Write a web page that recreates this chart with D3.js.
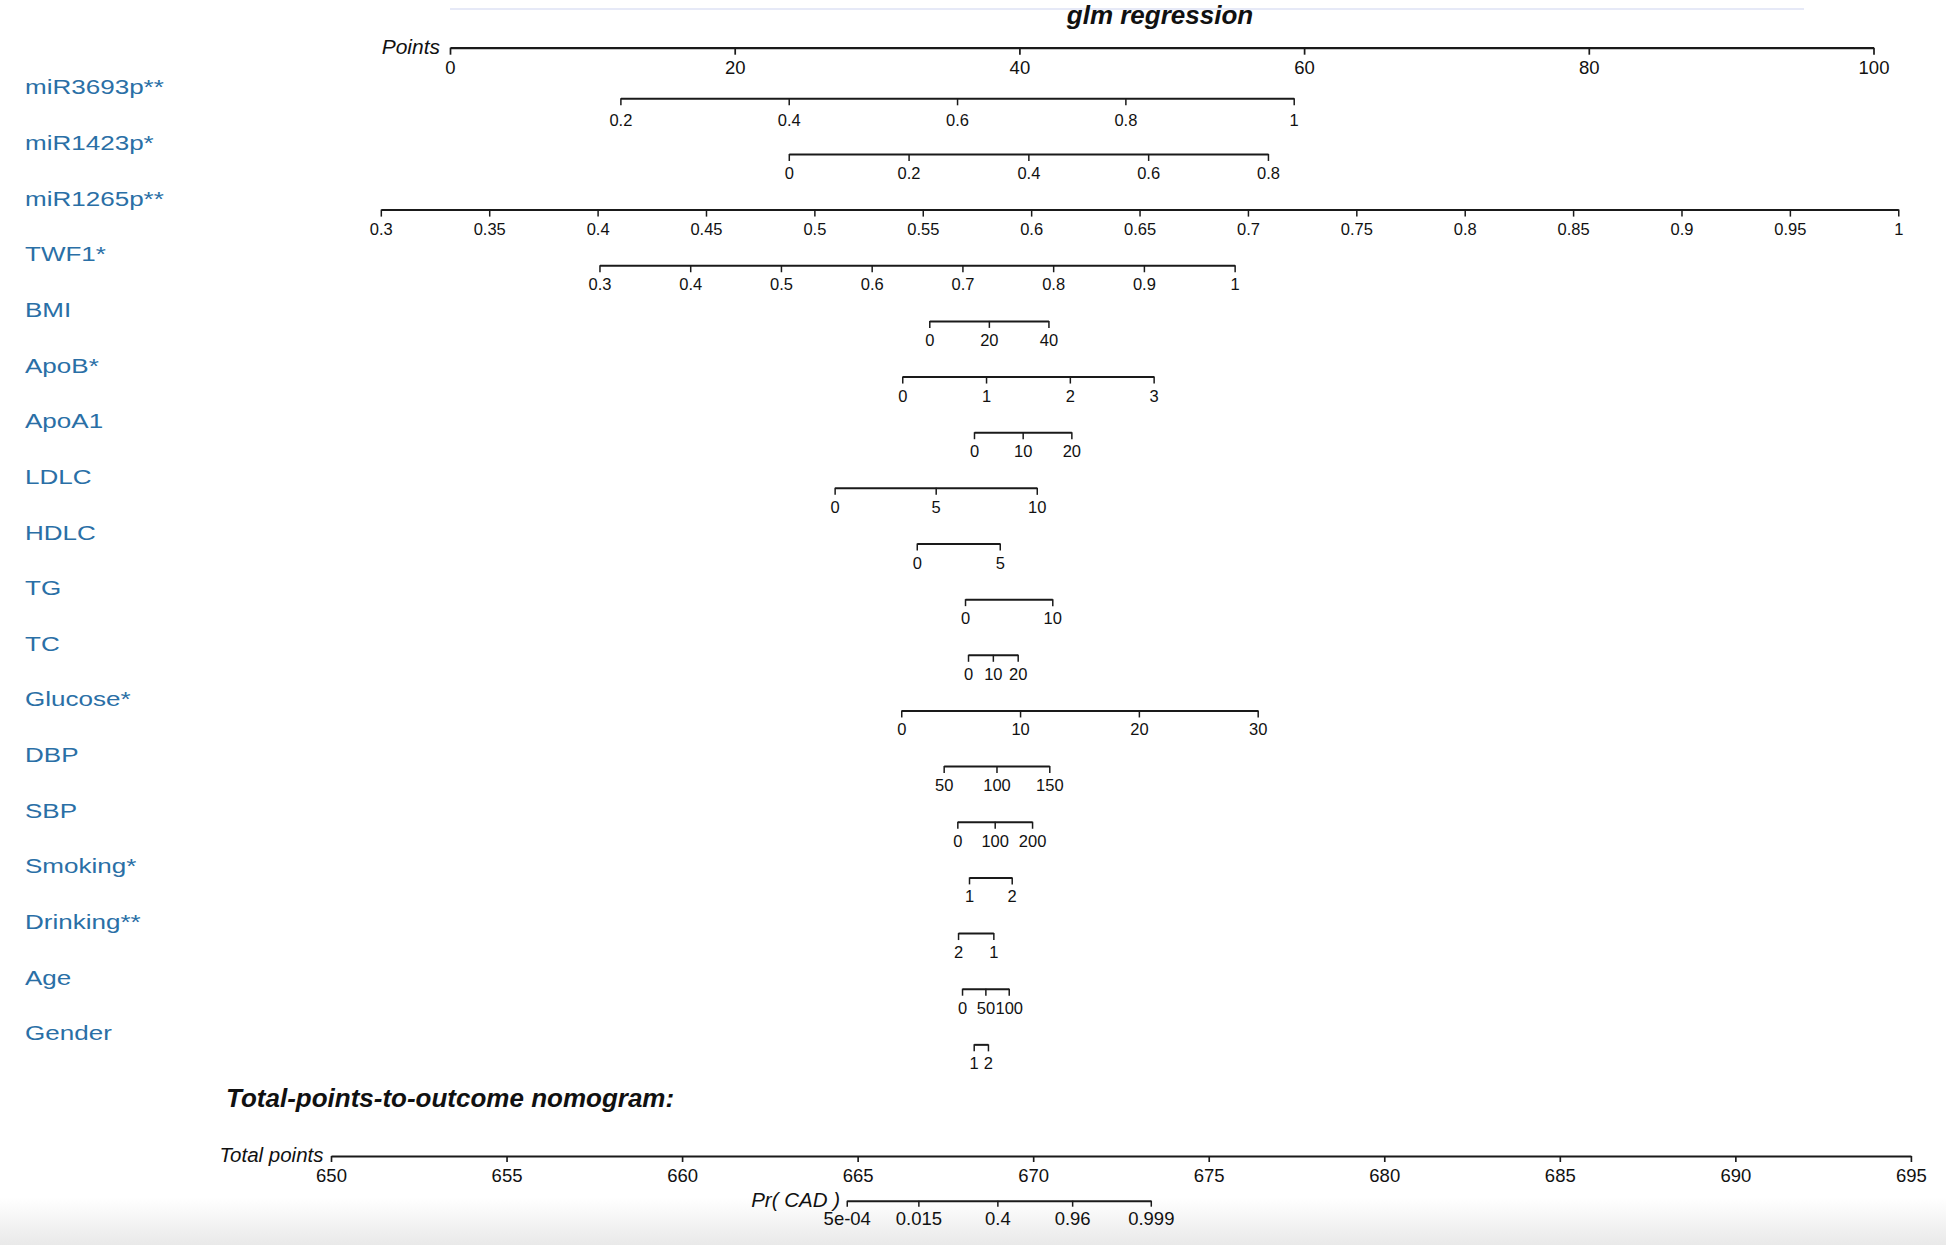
<!DOCTYPE html>
<html>
<head>
<meta charset="utf-8">
<script src="https://cdn.jsdelivr.net/npm/d3@7"></script>
<style>
  html, body { margin: 0; padding: 0; background: #ffffff; }
  svg { display: block; }
  text { font-family: "Liberation Sans", Arial, Helvetica, sans-serif; }
</style>
</head>
<body>
<svg id="chart" width="1946" height="1245"></svg>
<script>
// ---------- data ----------
const chartTitle = "glm regression";
const varNames = ["miR3693p**", "miR1423p*", "miR1265p**", "TWF1*", "BMI", "ApoB*", "ApoA1",
  "LDLC", "HDLC", "TG", "TC", "Glucose*", "DBP", "SBP", "Smoking*", "Drinking**", "Age", "Gender"];
const varTicks = [
  [0.2, 0.4, 0.6, 0.8, 1],
  [0, 0.2, 0.4, 0.6, 0.8],
  [0.3, 0.35, 0.4, 0.45, 0.5, 0.55, 0.6, 0.65, 0.7, 0.75, 0.8, 0.85, 0.9, 0.95, 1],
  [0.3, 0.4, 0.5, 0.6, 0.7, 0.8, 0.9, 1],
  [0, 20, 40],
  [0, 1, 2, 3],
  [0, 10, 20],
  [0, 5, 10],
  [0, 5],
  [0, 10],
  [0, 10, 20],
  [0, 10, 20, 30],
  [50, 100, 150],
  [0, 100, 200],
  [1, 2],
  [2, 1],
  [0, 50, 100],
  [1, 2]
];
// points (0-100 scale) at the first and last tick of each variable
const varPointRange = [
  [11.97, 59.27], [23.80, 57.46], [-4.86, 101.74], [10.50, 55.12], [33.67, 42.04],
  [31.77, 49.43], [36.81, 43.65], [27.02, 41.22], [32.79, 38.62], [36.18, 42.31],
  [36.39, 39.88], [31.70, 56.74], [34.68, 42.10], [35.64, 40.89], [36.46, 39.46],
  [35.69, 38.17], [35.97, 39.25], [36.79, 37.79]
];
const pointTicks = [0, 20, 40, 60, 80, 100];
const totalTicks = [650, 655, 660, 665, 670, 675, 680, 685, 690, 695];
const prLabels = ["5e-04", "0.015", "0.4", "0.96", "0.999"];
const prTotalPoints = [664.69, 666.73, 668.98, 671.11, 673.35];

// ---------- layout ----------
const svg = d3.select("#chart");
const W = 1946, H = 1245;
const labelColor = "#2a6fa6";
const lineColor = "#1a1a1a";

// bottom grey gradient band
const defs = svg.append("defs");
const grad = defs.append("linearGradient").attr("id", "bg").attr("x1", 0).attr("x2", 0).attr("y1", 0).attr("y2", 1);
grad.append("stop").attr("offset", "0%").attr("stop-color", "#ffffff");
grad.append("stop").attr("offset", "100%").attr("stop-color", "#e9e9e9");
svg.append("rect").attr("x", 0).attr("y", 1198).attr("width", W).attr("height", H - 1198).attr("fill", "url(#bg)");

const xPoints = d3.scaleLinear().domain([0, 100]).range([450, 1873.5]);
const xTotal = d3.scaleLinear().domain([650, 695]).range([331, 1910.9]);
const rowY = i => 98.3 + 55.65 * i;

function styleAxis(g, fontSize, labelOffset, strokeW) {
  g.attr("font-family", null).attr("font-size", null);
  g.select(".domain").attr("stroke", lineColor).attr("stroke-width", strokeW);
  g.selectAll(".tick line").attr("stroke", lineColor).attr("stroke-width", strokeW * 0.75);
  g.selectAll(".tick text")
    .attr("y", labelOffset).attr("dy", 0)
    .attr("fill", "#111")
    .style("font-size", fontSize + "px");
}

// title with faint line
svg.append("line").attr("x1", 450).attr("x2", 1804).attr("y1", 9).attr("y2", 9)
  .attr("stroke", "#e6e9f7").attr("stroke-width", 2);
svg.append("text").attr("x", 1160).attr("y", 24).attr("text-anchor", "middle")
  .style("font-size", "26px").style("font-weight", "bold").style("font-style", "italic")
  .attr("fill", "#111").text(chartTitle);

// Points axis
const gPts = svg.append("g").attr("transform", "translate(0,47.7)")
  .call(d3.axisBottom(xPoints).tickValues(pointTicks).tickSize(7).tickSizeOuter(0));
styleAxis(gPts, 18.5, 26, 2.3);
svg.append("text").attr("x", 440).attr("y", 53.5).attr("text-anchor", "end")
  .style("font-size", "21px").style("font-style", "italic").attr("fill", "#111").text("Points");

// variable axes
varNames.forEach((name, i) => {
  const ticks = varTicks[i];
  const pr = varPointRange[i];
  const s = d3.scaleLinear().domain([ticks[0], ticks[ticks.length - 1]])
    .range([xPoints(pr[0]), xPoints(pr[1])]);
  const y = rowY(i);
  const g = svg.append("g").attr("transform", `translate(0,${y})`)
    .call(d3.axisBottom(s).tickValues(ticks).tickFormat(d => String(d)).tickSize(7).tickSizeOuter(0));
  styleAxis(g, 16.5, i === 0 ? 28 : 25, 2);
  svg.append("text").attr("transform", `translate(25,${y - 4}) scale(1.24,1)`)
    .style("font-size", "21px").attr("fill", labelColor).text(name);
});

// total points section
svg.append("text").attr("x", 226).attr("y", 1107.3)
  .style("font-size", "25px").style("font-weight", "bold").style("font-style", "italic")
  .attr("transform", "translate(226,0) scale(1.04,1) translate(-226,0)")
  .attr("fill", "#111").text("Total-points-to-outcome nomogram:");

const gTot = svg.append("g").attr("transform", "translate(0,1156)")
  .call(d3.axisBottom(xTotal).tickValues(totalTicks).tickSize(6).tickSizeOuter(0));
styleAxis(gTot, 18.5, 25.7, 2.2);
svg.append("text").attr("x", 323.5).attr("y", 1161.7).attr("text-anchor", "end")
  .style("font-size", "20.5px").style("font-style", "italic").attr("fill", "#111").text("Total points");

const xPr = d3.scaleLinear().domain([prTotalPoints[0], prTotalPoints[prTotalPoints.length - 1]])
  .range([xTotal(prTotalPoints[0]), xTotal(prTotalPoints[prTotalPoints.length - 1])]);
const gPr = svg.append("g").attr("transform", "translate(0,1200.7)")
  .call(d3.axisBottom(xPr).tickValues(prTotalPoints).tickFormat((d, i) => prLabels[i]).tickSize(6).tickSizeOuter(0));
styleAxis(gPr, 18.5, 24.3, 2);
svg.append("text").attr("x", 840).attr("y", 1206.7).attr("text-anchor", "end")
  .style("font-size", "20.5px").style("font-style", "italic").attr("fill", "#111").text("Pr( CAD )");
</script>
</body>
</html>
